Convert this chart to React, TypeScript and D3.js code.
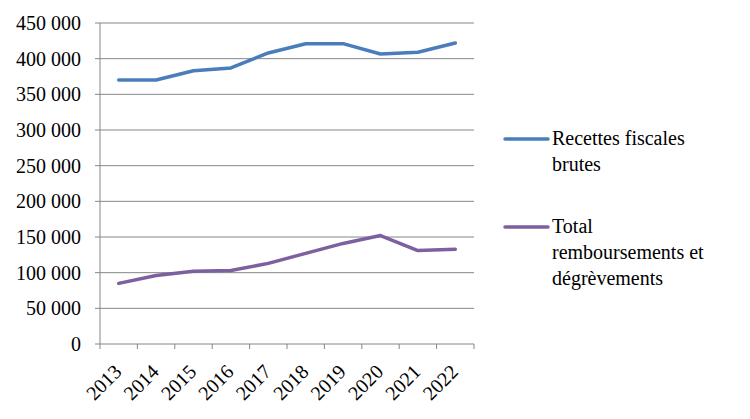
import React from 'react';
import * as d3 from 'd3';

const years = ['2013', '2014', '2015', '2016', '2017', '2018', '2019', '2020', '2021', '2022'];
const recettes = [370000, 370000, 383000, 387000, 408000, 421000, 421000, 406500, 409000, 422000];
const remboursements = [85000, 96000, 102000, 103000, 113000, 127000, 141000, 152000, 131000, 133000];
const yTicks = [0, 50000, 100000, 150000, 200000, 250000, 300000, 350000, 400000, 450000];

const series = [
  { label: ['Recettes fiscales', 'brutes'], values: recettes, color: '#4a7ebb' },
  { label: ['Total', 'remboursements et', 'dégrèvements'], values: remboursements, color: '#7d60a0' },
];

const W = 750;
const H = 419;
const margin = { top: 23, right: 276, bottom: 75, left: 100 };
const FONT = "'Liberation Serif', 'DejaVu Serif', 'Noto Serif', 'Times New Roman', serif";

const fmt = (v: number) => d3.format(',')(v).replace(/,/g, ' ');

export default function App() {
  const x = d3.scaleBand<string>().domain(years).range([margin.left, W - margin.right]);
  const y = d3.scaleLinear().domain([0, 450000]).range([H - margin.bottom, margin.top]);
  const line = d3
    .line<number>()
    .x((_, i) => (x(years[i]) as number) + x.bandwidth() / 2)
    .y((d) => y(d));

  const x0 = margin.left;
  const x1 = W - margin.right;
  const y0 = y(0);
  const axisColor = '#868686';
  const textStyle = { fontFamily: FONT };

  return (
    <svg
      width={W}
      height={H}
      style={{ position: 'absolute', left: 0, top: 0, background: '#fff', fontFamily: FONT }}
    >
      {/* gridlines + y labels */}
      {yTicks.map((t) => (
        <g key={t}>
          <line x1={x0 - 5} x2={x1} y1={y(t)} y2={y(t)} stroke={axisColor} strokeWidth={1} />
          <text x={x0 - 19} y={y(t)} dy="0.35em" textAnchor="end" fontSize={20} fill="#000" style={textStyle}>
            {fmt(t)}
          </text>
        </g>
      ))}
      {/* y axis */}
      <line x1={x0} x2={x0} y1={y(450000)} y2={y0} stroke={axisColor} strokeWidth={1} />
      {/* x ticks */}
      {years.concat(['end']).map((yr, i) => {
        const px = i < years.length ? (x(yr) as number) : x1;
        return <line key={yr} x1={px} x2={px} y1={y0} y2={y0 + 5} stroke={axisColor} strokeWidth={1} />;
      })}
      {/* x labels */}
      {years.map((yr) => {
        const cx = (x(yr) as number) + x.bandwidth() / 2;
        return (
          <text
            key={yr}
            transform={`translate(${cx + 4},${y0 + 29}) rotate(-45)`}
            textAnchor="end"
            fontSize={20}
            fill="#000"
            style={textStyle}
          >
            {yr}
          </text>
        );
      })}
      {/* lines */}
      {series.map((s) => (
        <path
          key={s.color}
          d={line(s.values) as string}
          fill="none"
          stroke={s.color}
          strokeWidth={3.5}
          strokeLinecap="round"
          strokeLinejoin="round"
        />
      ))}
      {/* legend */}
      {series.map((s, si) => {
        const ly = si === 0 ? 139 : 227;
        return (
          <g key={s.color}>
            <line x1={505} x2={548} y1={ly} y2={ly} stroke={s.color} strokeWidth={3.5} strokeLinecap="round" />
            {s.label.map((l, li) => (
              <text key={li} x={552} y={ly + 6 + li * 26} fontSize={20} fill="#000" style={textStyle}>
                {l}
              </text>
            ))}
          </g>
        );
      })}
    </svg>
  );
}
